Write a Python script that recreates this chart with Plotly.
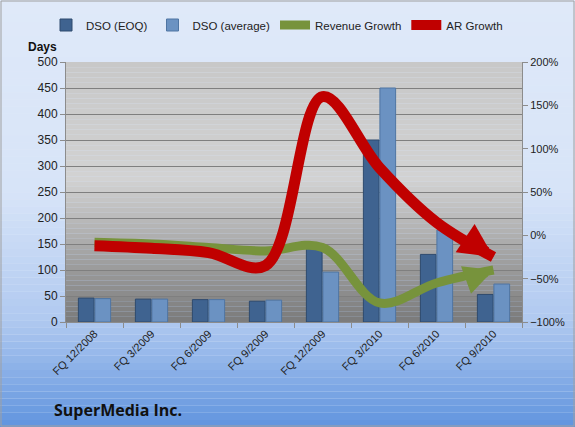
import plotly.graph_objects as go

categories = ["FQ 12/2008", "FQ 3/2009", "FQ 6/2009", "FQ 9/2009",
              "FQ 12/2009", "FQ 3/2010", "FQ 6/2010", "FQ 9/2010"]
dso_eoq = [46, 44, 43, 40, 150, 350, 130, 53]
dso_avg = [45, 44, 43, 42, 96, 450, 177, 73]
revenue_growth = [-8, -10, -14, -18, -14, -78, -55, -40]
ar_growth = [-12, -15, -20, -35, 160, 78, 15, -25]

W, H = 575, 427
L, R, T, B = 66, 53, 62, 105
PW, PH = W - L - R, H - T - B
GREEN, RED = "#77933c", "#c00000"

fig = go.Figure()

fig.add_trace(go.Bar(x=categories, y=dso_eoq, name="DSO (EOQ)",
                     marker=dict(color="#3f6390", line=dict(color="#2e4a6e", width=1))))
fig.add_trace(go.Bar(x=categories, y=dso_avg, name="DSO (average)",
                     marker=dict(color="#6b92c2", line=dict(color="#4f75a3", width=1))))

fig.add_trace(go.Scatter(x=categories, y=revenue_growth, name="Revenue Growth", yaxis="y2",
                         mode="lines", line=dict(color=GREEN, width=9, shape="spline", smoothing=1.0)))
fig.add_trace(go.Scatter(x=categories, y=ar_growth, name="AR Growth", yaxis="y2",
                         mode="lines", line=dict(color=RED, width=11, shape="spline", smoothing=1.0)))

def lerp(c1, c2, t):
    return "rgb(%d,%d,%d)" % tuple(round(a + (b - a) * t) for a, b in zip(c1, c2))

def px_x(p):
    return (p - L) / PW

def px_y(p):
    return 1 - (p - T) / PH

shapes = []
stops_outer = [(0.0, (223, 233, 249)), (0.45, (215, 228, 248)), (0.75, (176, 201, 240)), (1.0, (96, 148, 222))]
N = 60
for i in range(N):
    t = (i + 0.5) / N
    for (a, ca), (b, cb) in zip(stops_outer[:-1], stops_outer[1:]):
        if a <= t <= b:
            col = lerp(ca, cb, (t - a) / (b - a))
            break
    shapes.append(dict(type="rect", xref="paper", yref="paper", layer="below",
                       x0=px_x(0), x1=px_x(W), y0=px_y((i + 1) / N * H), y1=px_y(i / N * H),
                       fillcolor=col, line=dict(width=0)))
stops_plot = [(0.0, (200, 200, 200)), (0.45, (210, 210, 210)), (1.0, (122, 122, 122))]
M = 50
for i in range(M):
    t = (i + 0.5) / M
    for (a, ca), (b, cb) in zip(stops_plot[:-1], stops_plot[1:]):
        if a <= t <= b:
            col = lerp(ca, cb, (t - a) / (b - a))
            break
    shapes.append(dict(type="rect", xref="paper", yref="paper", layer="below",
                       x0=0, x1=1, y0=1 - (i + 1) / M, y1=1 - i / M,
                       fillcolor=col, line=dict(width=0)))
shapes.append(dict(type="rect", xref="paper", yref="paper", layer="above",
                   x0=px_x(1), x1=px_x(W - 1), y0=px_y(H - 1), y1=px_y(1),
                   line=dict(color="#a0a0a0", width=1)))

annotations = [
    dict(text="<b>Days</b>", xref="paper", yref="paper", x=px_x(26), y=px_y(47),
         xanchor="left", yanchor="middle", showarrow=False, font=dict(size=12, color="#111")),
    dict(text="<b>SuperMedia Inc.</b>", xref="paper", yref="paper", x=px_x(52),
         y=px_y(410), xanchor="left", yanchor="middle", showarrow=False,
         font=dict(size=16, color="#111", family="Open Sans, Liberation Sans, sans-serif")),
    # arrowheads at the end of the growth lines
    dict(x=categories[-1], y=revenue_growth[-1], xref="x", yref="y2", ax=-22, ay=8,
         showarrow=True, arrowhead=2, arrowsize=0.65, arrowwidth=9, arrowcolor=GREEN, standoff=0, text=""),
    dict(x=categories[-1], y=ar_growth[-1], xref="x", yref="y2", ax=-24, ay=-16,
         showarrow=True, arrowhead=2, arrowsize=0.62, arrowwidth=11, arrowcolor=RED, standoff=0, text=""),
]

fig.update_layout(
    width=W, height=H,
    margin=dict(l=L, r=R, t=T, b=B, autoexpand=False),
    paper_bgcolor="#dfe9f9",
    plot_bgcolor="rgba(0,0,0,0)",
    font=dict(family="Liberation Sans, Arial, sans-serif", size=11, color="#222222"),
    barmode="group", bargap=0.42, bargroupgap=0.05,
    shapes=shapes,
    showlegend=True,
    legend=dict(orientation="h", x=px_x(46), xanchor="left", y=px_y(25), yanchor="middle",
                bgcolor="rgba(0,0,0,0)", font=dict(size=11.5), traceorder="normal"),
    xaxis=dict(range=[-0.5, len(categories) - 0.5], tickangle=-45, showline=True, linecolor="#8c8c8c",
               ticks="outside", tickson="boundaries",
               ticklen=5, tickcolor="#8c8c8c", showgrid=False, tickfont=dict(size=11)),
    yaxis=dict(range=[0, 500], dtick=50, showline=True, linecolor="#8c8c8c", ticks="outside",
               ticklen=5, tickcolor="#8c8c8c", gridcolor="#7f7f7f", gridwidth=1, zeroline=False,
               tickfont=dict(size=12)),
    yaxis2=dict(range=[-100, 200], dtick=50, overlaying="y", side="right", ticksuffix="%",
                showline=True, linecolor="#8c8c8c", ticks="outside", ticklen=5, tickcolor="#8c8c8c",
                showgrid=False, zeroline=False, tickfont=dict(size=11)),
    annotations=annotations,
)

fig.write_html("out.html")
